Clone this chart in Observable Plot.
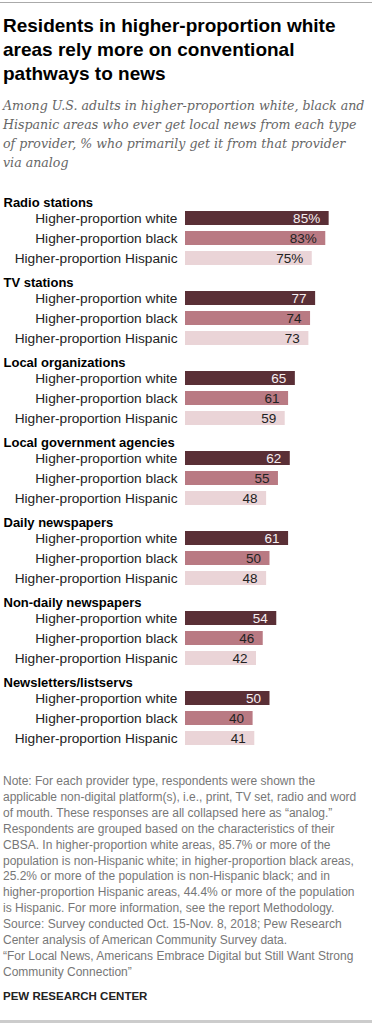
<!DOCTYPE html>
<html>
<head>
<meta charset="utf-8">
<script src="https://cdn.jsdelivr.net/npm/d3@7"></script>
<script src="https://cdn.jsdelivr.net/npm/@observablehq/plot@0.6"></script>
<style>
  html, body { margin: 0; padding: 0; background: #fff; }
  body { width: 372px; height: 1024px; position: relative; overflow: hidden; font-family: "Liberation Sans", Arial, sans-serif; }
  .topline { position: absolute; left: 0; top: 2px; width: 372px; height: 1px; background: #aaa; }
  .title { position: absolute; left: 3px; top: 14px; font-size: 19px; line-height: 24px; font-weight: bold; color: #000; white-space: nowrap; }
  .subtitle { position: absolute; left: 3px; top: 96px; font-family: "DejaVu Serif", Georgia, serif; font-style: italic; font-size: 12.6px; line-height: 19px; color: #666; white-space: nowrap; }
  #chart { position: absolute; left: 0; top: 185px; }
  .note { position: absolute; left: 3px; top: 774px; font-size: 12px; line-height: 15.9px; color: #777; white-space: nowrap; }
  .brand { position: absolute; left: 3px; top: 990px; font-size: 11.5px; font-weight: bold; color: #222; }
  .bottomline { position: absolute; left: 0; top: 1020px; width: 372px; height: 3px; background: #ccc; }
</style>
</head>
<body>
<div class="topline"></div>
<div class="title">Residents in higher-proportion white<br>areas rely more on conventional<br>pathways to news</div>
<div class="subtitle">Among U.S. adults in higher-proportion white, black and<br>Hispanic areas who ever get local news from each type<br>of provider, % who primarily get it from that provider<br>via analog</div>
<div id="chart"></div>
<div class="note">Note: For each provider type, respondents were shown the<br>applicable non-digital platform(s), i.e., print, TV set, radio and word<br>of mouth. These responses are all collapsed here as “analog.”<br>Respondents are grouped based on the characteristics of their<br>CBSA. In higher-proportion white areas, 85.7% or more of the<br>population is non-Hispanic white; in higher-proportion black areas,<br>25.2% or more of the population is non-Hispanic black; and in<br>higher-proportion Hispanic areas, 44.4% or more of the population<br>is Hispanic. For more information, see the report Methodology.<br>Source: Survey conducted Oct. 15-Nov. 8, 2018; Pew Research<br>Center analysis of American Community Survey data.<br>“For Local News, Americans Embrace Digital but Still Want Strong<br>Community Connection”</div>
<div class="brand">PEW RESEARCH CENTER</div>
<div class="bottomline"></div>
<script>
const groups = ["Radio stations", "TV stations", "Local organizations", "Local government agencies", "Daily newspapers", "Non-daily newspapers", "Newsletters/listservs"];
const areas = ["Higher-proportion white", "Higher-proportion black", "Higher-proportion Hispanic"];
const whiteValues = [85, 77, 65, 62, 61, 54, 50];
const blackValues = [83, 74, 61, 55, 50, 46, 40];
const hispanicValues = [75, 73, 59, 48, 48, 42, 41];
const areaColors = ["#5a2f36", "#b97a83", "#ead4d7"];

const seriesByArea = [whiteValues, blackValues, hispanicValues];
const rowKeys = [];
const headers = [];
const rows = [];
groups.forEach((g, gi) => {
  const hk = g + "|header";
  rowKeys.push(hk);
  headers.push({key: hk, label: g});
  areas.forEach((a, ai) => {
    const k = g + "|" + a;
    rowKeys.push(k);
    const v = seriesByArea[ai][gi];
    rows.push({key: k, group: g, area: a, value: v, label: gi === 0 ? v + "%" : String(v), dark: ai === 0});
  });
});

const chart = Plot.plot({
  width: 372,
  height: 566,
  marginTop: 0, marginBottom: 0, marginLeft: 0, marginRight: 0,
  x: {domain: [0, 100], range: [185, 354], axis: null},
  y: {domain: rowKeys, axis: null, paddingInner: 0.28, paddingOuter: 0.14},
  color: {domain: areas, range: areaColors},
  style: {fontFamily: "'Liberation Sans', Arial, sans-serif", overflow: "visible"},
  marks: [
    Plot.barX(rows, {x: "value", y: "key", fill: "area"}),
    Plot.text(rows, {x: 0, y: "key", text: "area", textAnchor: "end", dx: -8, fontSize: 13.7, fill: "#222"}),
    Plot.text(rows, {x: "value", y: "key", text: "label", textAnchor: "end", dx: -9, fontSize: 13.5, fill: d => d.dark ? "#f6eef0" : "#222"}),
    Plot.text(headers, {frameAnchor: "left", y: "key", text: "label", textAnchor: "start", dx: 3, dy: 4, fontSize: 13, fontWeight: "bold", fill: "#000"})
  ]
});
document.getElementById("chart").appendChild(chart);
</script>
</body>
</html>
